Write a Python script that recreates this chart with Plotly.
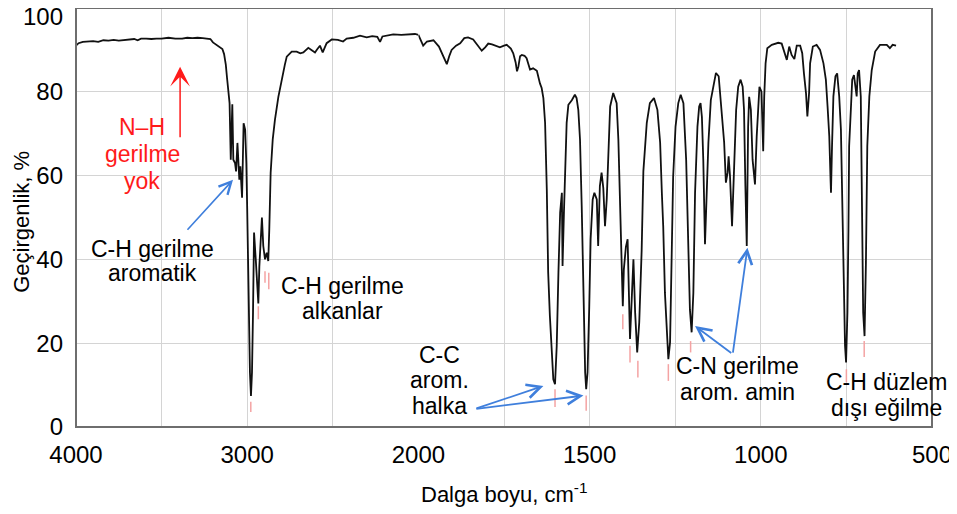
import plotly.graph_objects as go

# ---------------- data ----------------
wavenumber = [
    4000, 3985, 3960, 3930, 3900, 3870, 3840, 3810, 3780, 3750, 3720, 3690, 3660, 3640, 3620,
    3590, 3560, 3530, 3500, 3460, 3420, 3380, 3350, 3320, 3290, 3260, 3230, 3215, 3200, 3180,
    3160, 3145, 3135, 3125, 3117, 3110, 3103, 3096, 3087, 3081, 3071, 3065, 3057, 3046, 3040,
    3030, 3021, 3012, 3005, 3000, 2994, 2988, 2984, 2978, 2972, 2966, 2960, 2950, 2941, 2935,
    2929, 2921, 2914, 2906, 2896, 2886, 2877, 2871, 2863, 2851, 2838, 2818, 2799, 2780, 2769,
    2740, 2711, 2690, 2672, 2655, 2643, 2625, 2604, 2590, 2575, 2559, 2545, 2536, 2506, 2470,
    2440, 2419, 2380, 2341, 2302, 2270, 2240, 2224, 2210, 2180, 2147, 2100, 2049, 2020, 2000,
    1990, 1986, 1975, 1956, 1940, 1928, 1917, 1910, 1903, 1890, 1878, 1866, 1855, 1840, 1828,
    1815, 1805, 1796, 1785, 1772, 1762, 1750, 1742, 1730, 1723, 1716, 1712, 1708, 1703, 1698,
    1690, 1684, 1674, 1665, 1654, 1645, 1640, 1635, 1630, 1625, 1621, 1616, 1611, 1606, 1601,
    1596, 1591, 1586, 1581, 1579, 1575, 1570, 1567, 1562, 1552, 1543, 1538, 1533, 1528, 1523,
    1518, 1513, 1510, 1506, 1501, 1497, 1491, 1486, 1479, 1475, 1470, 1465, 1460, 1455, 1450,
    1445, 1440, 1431, 1421, 1416, 1409, 1403, 1400, 1394, 1389, 1386, 1382, 1377, 1372, 1367,
    1361, 1355, 1348, 1343, 1333, 1324, 1312, 1302, 1294, 1289, 1285, 1280, 1275, 1270, 1265,
    1260, 1256, 1249, 1241, 1234, 1226, 1218, 1212, 1207, 1202, 1197, 1192, 1185, 1180, 1176,
    1172, 1168, 1163, 1158, 1153, 1146, 1139, 1131, 1123, 1114, 1107, 1102, 1097, 1094, 1090,
    1084, 1078, 1072, 1066, 1059, 1053, 1049, 1045, 1041, 1037, 1034, 1029, 1024, 1017, 1012,
    1004, 998, 993, 990, 986, 981, 968, 949, 939, 929, 924, 917, 910, 902, 895,
    885, 879, 874, 868, 864, 859, 856, 848, 837, 827, 817, 810, 805, 800, 796,
    795, 792, 788, 782, 777, 771, 766, 761, 757, 754, 751, 747, 744, 742, 737,
    733, 728, 724, 720, 717, 713, 708, 705, 701, 697, 693, 689, 683, 676, 666,
    652, 632, 623, 615, 605,
]
transmittance = [
    91.0, 91.6, 91.9, 92.0, 92.1, 91.9, 92.3, 92.2, 92.4, 92.2, 92.3, 92.5, 92.6, 92.3, 92.7,
    92.7, 92.6, 92.7, 92.7, 92.9, 92.7, 92.7, 92.9, 92.8, 92.9, 92.8, 92.7, 92.6, 91.8, 91.2,
    90.6, 90.2, 89.0, 86.5, 83.0, 80.0, 77.3, 63.8, 77.0, 63.8, 63.0, 61.0, 67.8, 59.0, 62.2,
    54.7, 72.5, 71.0, 63.0, 52.0, 35.0, 27.3, 13.0, 7.4, 13.0, 27.4, 46.4, 40.0, 31.3, 29.5,
    38.4, 47.1, 50.0, 43.2, 40.0, 41.6, 39.6, 47.1, 60.7, 68.6, 73.3, 78.8, 82.9, 86.5, 88.4,
    89.6, 89.6, 89.2, 89.4, 90.0, 90.5, 90.0, 89.4, 90.2, 91.0, 89.4, 90.8, 91.6, 92.5, 92.4,
    92.0, 92.7, 92.9, 93.4, 93.0, 93.3, 93.1, 91.9, 93.2, 93.4, 93.7, 93.6, 93.8, 93.8, 93.6,
    91.5, 91.0, 92.0, 92.3, 90.8, 88.8, 86.6, 88.5, 90.0, 91.0, 91.6, 92.8, 93.0, 92.5, 91.2,
    89.8, 90.6, 91.5, 91.3, 90.8, 90.6, 91.0, 91.2, 90.3, 89.2, 87.0, 84.9, 86.0, 88.5, 88.8,
    88.6, 88.0, 85.3, 85.6, 85.0, 82.0, 80.9, 78.5, 72.6, 56.7, 36.9, 26.5, 18.6, 11.4, 10.2,
    19.4, 36.9, 51.2, 55.9, 38.4, 51.0, 64.6, 72.6, 76.9, 78.0, 79.3, 78.5, 75.7, 68.6, 52.7,
    28.8, 13.0, 9.0, 13.0, 28.8, 44.8, 54.3, 55.9, 54.3, 43.2, 57.5, 60.7, 57.0, 47.9, 54.3,
    67.0, 76.5, 79.7, 77.3, 68.6, 44.8, 28.8, 37.6, 43.0, 44.8, 37.0, 21.0, 30.5, 40.0, 27.3,
    17.8, 25.0, 42.0, 61.0, 72.6, 77.3, 78.5, 75.7, 67.9, 55.9, 47.9, 32.0, 22.6, 16.2, 20.2,
    40.0, 59.8, 71.7, 77.3, 79.3, 77.3, 63.8, 44.0, 28.0, 22.6, 32.0, 55.9, 71.7, 76.5, 77.3,
    74.0, 63.8, 43.6, 56.0, 67.9, 78.0, 81.2, 84.5, 83.7, 75.7, 67.9, 58.3, 60.7, 64.6, 60.0,
    47.9, 62.2, 75.7, 81.2, 82.9, 81.2, 75.7, 57.5, 43.2, 71.7, 78.8, 75.7, 63.8, 57.9, 69.3,
    81.2, 80.0, 65.8, 78.9, 86.8, 90.4, 91.2, 91.7, 91.5, 88.8, 87.6, 90.8, 88.8, 87.8, 91.0,
    91.0, 89.2, 84.4, 79.7, 74.1, 79.7, 86.8, 90.8, 91.2, 90.0, 86.8, 82.9, 76.5, 69.4, 58.3,
    55.9, 67.0, 78.9, 83.7, 84.4, 78.9, 71.0, 49.5, 27.3, 19.4, 15.4, 27.3, 47.1, 67.0, 75.7,
    82.9, 84.0, 80.5, 78.9, 84.4, 85.2, 78.9, 55.0, 27.3, 21.7, 39.2, 67.0, 78.9, 85.2, 89.6,
    91.2, 91.2, 90.4, 91.2, 91.0,
]

# small pink peak markers (wavenumber, top %, bottom %)
peak_marker_wn = [2979, 2935, 2896, 2874, 1601, 1510, 1403, 1382, 1359, 1270, 1205, 750, 698]
peak_marker_top = [6.0, 28.8, 37.2, 36.8, 9.0, 7.5, 26.9, 19.4, 15.8, 15.0, 20.5, 13.8, 20.5]
peak_marker_bottom = [3.6, 25.7, 34.4, 32.9, 4.8, 3.9, 23.3, 15.4, 11.8, 11.0, 17.8, 10.7, 16.7]

x_ticks_high = [4000, 3500, 3000, 2500, 2000]
x_labels_high = ["4000", "", "3000", "", "2000"]
x_ticks_low = [2000, 1750, 1500, 1250, 1000, 750, 500]
x_labels_low = ["", "", "1500", "", "1000", "", "500"]
y_ticks = [0, 20, 40, 60, 80]
y_top_tick = [100]

SPLIT = 2000  # scale changes at 2000 cm-1

# ---------------- figure ----------------
FONT = "Liberation Sans, Arial, sans-serif"
LINE = "#111111"
GRID = "#d4d4d4"
BLUE = "#3f7fdc"
RED = "#ff1a1a"
PINK = "#f4a3a3"

hi_x = [w for w in wavenumber if w >= SPLIT]
hi_y = [t for w, t in zip(wavenumber, transmittance) if w >= SPLIT]
lo_x = [w for w in wavenumber if w <= SPLIT]
lo_y = [t for w, t in zip(wavenumber, transmittance) if w <= SPLIT]

fig = go.Figure()
fig.add_trace(go.Scatter(x=hi_x, y=hi_y, mode="lines", line=dict(color=LINE, width=1.8),
                         xaxis="x", yaxis="y", showlegend=False, hoverinfo="skip"))
fig.add_trace(go.Scatter(x=lo_x, y=lo_y, mode="lines", line=dict(color=LINE, width=1.8),
                         xaxis="x2", yaxis="y", showlegend=False, hoverinfo="skip"))

# peak markers
for axis, cond in (("x", lambda w: w >= SPLIT), ("x2", lambda w: w < SPLIT)):
    mx, my = [], []
    for w, t, b in zip(peak_marker_wn, peak_marker_top, peak_marker_bottom):
        if cond(w):
            mx += [w, w, None]
            my += [t, b, None]
    fig.add_trace(go.Scatter(x=mx, y=my, mode="lines", line=dict(color=PINK, width=1.5),
                             xaxis=axis, yaxis="y", showlegend=False, hoverinfo="skip"))

annotations = []
ANN_SIZE = 23


def label(lines, x, ys, xref, color="black"):
    for text, y in zip(lines, ys):
        annotations.append(dict(text=text, x=x, y=y, xref=xref, yref="y", showarrow=False,
                                xanchor="center", yanchor="middle",
                                font=dict(family=FONT, size=ANN_SIZE, color=color)))


def arrow(x, y, ax, ay, xref, color, head, size, width):
    annotations.append(dict(text="", x=x, y=y, ax=ax, ay=ay, xref=xref, yref="y",
                            axref=xref, ayref="y", showarrow=True, arrowhead=head,
                            arrowsize=size, arrowwidth=width, arrowcolor=color))


label(["N–H", "gerilme", "yok"], 3614, [71.7, 65.1, 58.6], "x", RED)
label(["C-H gerilme", "aromatik"], 3556, [42.6, 36.7], "x")
label(["C-H gerilme", "alkanlar"], 2446, [33.7, 27.8], "x")
label(["C-C", "arom.", "halka"], 1937, [17.1, 11.1, 5.0], "x2")
label(["C-N gerilme", "arom. amin"], 1067, [14.5, 8.3], "x2")
label(["C-H düzlem", "dışı eğilme"], 634, [10.7, 4.5], "x2")

arrow(3392, 86.0, 3392, 68.8, "x", RED, 3, 2.2, 1.5)
arrow(3083, 59.0, 3357, 46.7, "x", BLUE, 5, 1.5, 1.6)
arrow(1635, 9.8, 1835, 4.3, "x2", BLUE, 5, 1.5, 1.8)
arrow(1518, 7.5, 1835, 4.3, "x2", BLUE, 5, 1.5, 1.8)
arrow(1192, 24.1, 1082, 17.4, "x2", BLUE, 5, 1.5, 1.8)
arrow(1039, 42.8, 1082, 17.4, "x2", BLUE, 5, 1.5, 1.8)

# axis titles
annotations.append(dict(text="Dalga boyu, cm<sup>-1</sup>", x=0.5, y=-0.157, xref="paper",
                        yref="paper", showarrow=False, xanchor="center", yanchor="middle",
                        font=dict(family=FONT, size=22, color="black")))
annotations.append(dict(text="Geçirgenlik, %", x=-0.063, y=0.49, xref="paper", yref="paper",
                        showarrow=False, xanchor="center", yanchor="middle", textangle=-90,
                        font=dict(family=FONT, size=22, color="black")))

tickfont = dict(family=FONT, size=24, color="black")
common_x = dict(showgrid=True, gridcolor=GRID, gridwidth=1, zeroline=False, showline=False,
                ticks="", tickfont=tickfont, tickmode="array", anchor="y",
                ticklabelstandoff=11, automargin=False, ticklabeloverflow="allow")

# the page body adds an 8 px offset, so the figure is 8 px smaller than the window
fig.update_layout(
    width=949, height=506,
    margin=dict(l=68, r=25, t=0, b=87, autoexpand=False),
    paper_bgcolor="white", plot_bgcolor="white",
    xaxis=dict(domain=[0, 0.4], range=[4000, SPLIT], tickvals=x_ticks_high,
               ticktext=x_labels_high, **common_x),
    xaxis2=dict(domain=[0.4, 1], range=[SPLIT, 500], tickvals=x_ticks_low,
                ticktext=x_labels_low, **common_x),
    yaxis=dict(range=[0, 100], tickvals=y_ticks, showgrid=True, gridcolor=GRID, gridwidth=1,
               zeroline=False, showline=False, ticks="", tickfont=tickfont,
               ticklabelstandoff=12, anchor="x", automargin=False,
               ticklabeloverflow="allow"),
    yaxis2=dict(range=[0, 100], tickvals=y_top_tick, overlaying="y", side="left",
                anchor="x", showgrid=False, zeroline=False, showline=False, ticks="",
                tickfont=tickfont, ticklabelstandoff=12, ticklabelshift=9,
                automargin=False, ticklabeloverflow="allow"),
    annotations=annotations,
    shapes=[dict(type="rect", xref="paper", yref="paper", x0=0, x1=1, y0=0, y1=1,
                 line=dict(color="#6e6e6e", width=2), layer="above")],
)
# an invisible trace so that the overlaying axis carrying the "100" label is drawn
fig.add_trace(go.Scatter(x=[4000], y=[100], mode="markers", marker=dict(opacity=0),
                         xaxis="x", yaxis="y2", showlegend=False, hoverinfo="skip"))

fig.write_html("out.html")
